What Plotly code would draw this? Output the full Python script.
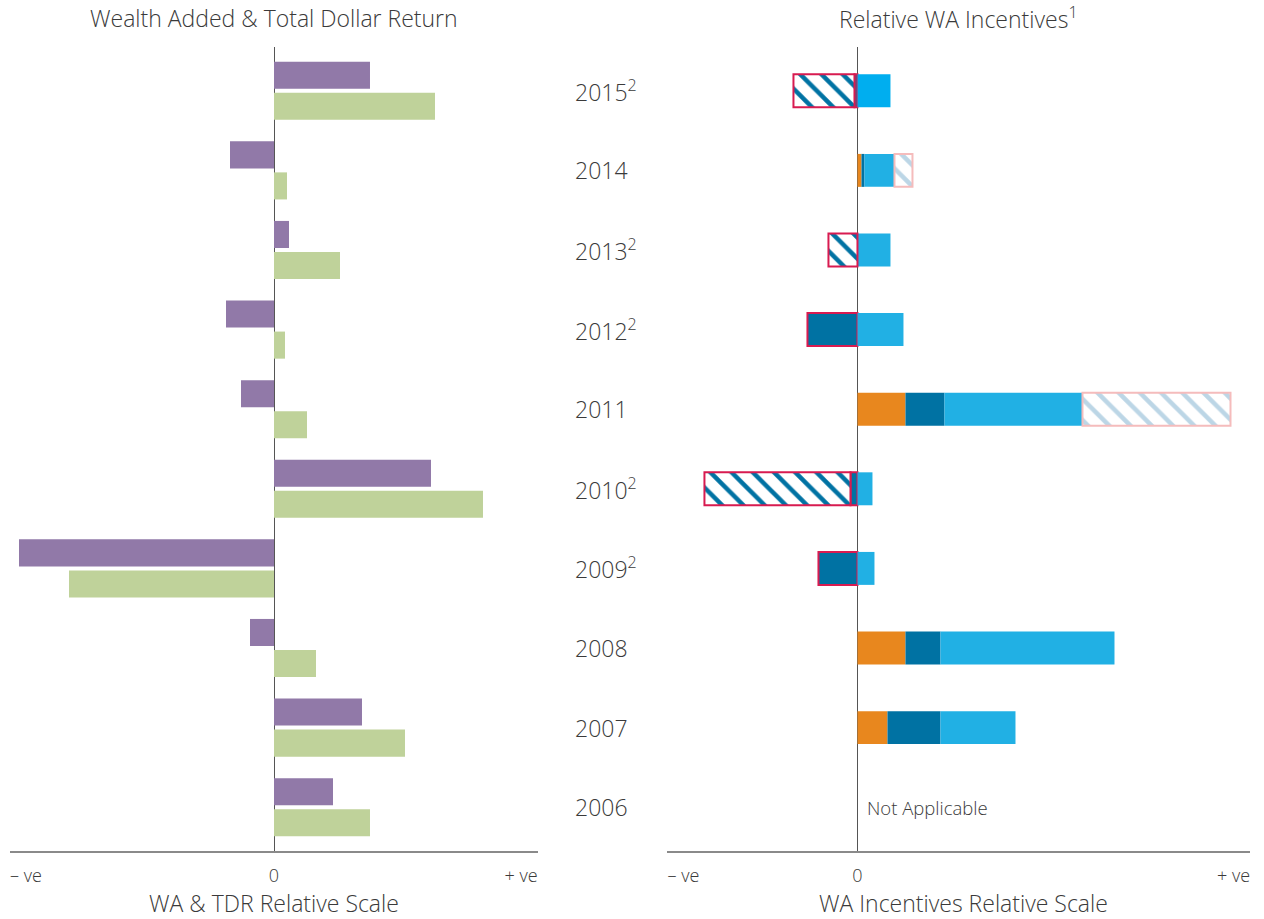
import plotly.graph_objects as go
from plotly.subplots import make_subplots

# years, top to bottom; footnote 2 marks some of them
years = ["2015", "2014", "2013", "2012", "2011", "2010", "2009", "2008", "2007", "2006"]
year_notes = ["2", "", "2", "2", "", "2", "2", "", "", ""]

# left panel: Wealth Added (WA) and Total Dollar Return (TDR), relative units
wealth_added = [96, -44, 15, -48, -33, 157, -255, -24, 88, 59]
total_dollar_return = [161, 13, 66, 11, 33, 209, -205, 42, 131, 96]

# right panel: relative WA incentive components (None = not applicable / no segment)
inc_orange = [None, 4, None, None, 48, None, None, 48, 30, None]
inc_dark = [None, 3, None, None, 39, None, None, 35, 53, None]
inc_light = [33, 30, 33, 46, 138, 15, 17, 174, 75, None]
inc_light_hatched = [None, 18, None, None, 148, None, None, None, None, None]
inc_dark_negative = [-3, None, None, -50, None, -7, -39, None, None, None]
inc_dark_hatched = [-61, None, -29, None, None, -146, None, None, None, None]

TEXT = "#3a3a3a"
FONT = "Open Sans"
PURPLE = "#9179a8"
GREEN = "#bfd29a"
ORANGE = "#e8871e"
DARK_BLUE = "#0072a3"
LIGHT_BLUE = "#21b0e4"
RED = "#d81b50"

pos = list(range(len(years)))

fig = make_subplots(rows=1, cols=2, horizontal_spacing=0.1)

# left panel: paired bars
fig.add_trace(go.Bar(
    y=[p - 0.195 for p in pos], x=wealth_added, orientation="h",
    width=0.34, marker=dict(color=PURPLE, line=dict(width=0)), name="Wealth Added",
), row=1, col=1)
fig.add_trace(go.Bar(
    y=[p + 0.195 for p in pos], x=total_dollar_return, orientation="h",
    width=0.34, marker=dict(color=GREEN, line=dict(width=0)), name="Total Dollar Return",
), row=1, col=1)

# right panel: stacked incentive segments
bar_w = 0.414
fig.add_trace(go.Bar(
    y=pos, x=inc_orange, orientation="h", width=bar_w,
    marker=dict(color=ORANGE, line=dict(width=0)), name="orange",
), row=1, col=2)
fig.add_trace(go.Bar(
    y=pos, x=inc_dark_negative, orientation="h", width=bar_w,
    marker=dict(color=DARK_BLUE, line=dict(color=RED, width=2)), name="dark neg",
), row=1, col=2)
fig.add_trace(go.Bar(
    y=pos, x=inc_dark, orientation="h", width=bar_w,
    marker=dict(color=DARK_BLUE, line=dict(width=0)), name="dark",
), row=1, col=2)
fig.add_trace(go.Bar(
    y=pos, x=inc_light, orientation="h", width=bar_w,
    marker=dict(color=["#00aeef"] + [LIGHT_BLUE] * 9, line=dict(width=0)), name="light",
), row=1, col=2)
fig.add_trace(go.Bar(
    y=pos, x=inc_light_hatched, orientation="h", width=bar_w,
    marker=dict(color="white", line=dict(color="#f5bcbc", width=2),
                pattern=dict(shape="\\", fgcolor="#bcd6e6", bgcolor="white",
                             size=15, solidity=0.3, fillmode="replace")),
    name="light hatched",
), row=1, col=2)
fig.add_trace(go.Bar(
    y=pos, x=inc_dark_hatched, orientation="h", width=bar_w,
    marker=dict(color="white", line=dict(color=RED, width=2),
                pattern=dict(shape="\\", fgcolor=DARK_BLUE, bgcolor="white",
                             size=15, solidity=0.3, fillmode="replace")),
    name="dark hatched",
), row=1, col=2)

axis_common = dict(
    showgrid=False, zeroline=True, zerolinecolor="#555555", zerolinewidth=1.3,
    showline=True, linecolor="#8a8a8a", linewidth=2, ticks="",
    ticklabelstandoff=7, tickfont=dict(family=FONT, size=18, color=TEXT, weight=300),
    fixedrange=True,
)
fig.update_xaxes(**axis_common)
fig.update_xaxes(range=[-264, 264], domain=[0, 0.4258],
                 tickvals=[-248, 0, 247], ticktext=["\u2013 ve", "0", "+ ve"], row=1, col=1)
fig.update_xaxes(range=[-190.5, 392.5], domain=[0.5298, 1],
                 tickvals=[-174, 0, 376], ticktext=["\u2013 ve", "0", "+ ve"], row=1, col=2)
fig.update_yaxes(range=[9.55, -0.55], showgrid=False, zeroline=False, showline=False,
                 showticklabels=False, ticks="", fixedrange=True)

annotations = [
    dict(text="Wealth Added & Total Dollar Return", x=0.2129, y=1.036,
         font=dict(size=23)),
    dict(text="Relative WA Incentives<sup>1</sup>", x=0.7649, y=1.036,
         font=dict(size=23)),
    dict(text="WA & TDR Relative Scale", x=0.2129, y=-0.0645, font=dict(size=23)),
    dict(text="WA Incentives Relative Scale", x=0.7688, y=-0.0645, font=dict(size=23)),
]
for a in annotations:
    a.update(xref="paper", yref="paper", showarrow=False, xanchor="center", yanchor="middle")

for p, yr, note in zip(pos, years, year_notes):
    label = yr + (f"<sup>{note}</sup>" if note else "")
    annotations.append(dict(
        text=label, xref="paper", yref="y2", x=0.4540, y=p, xanchor="left",
        yanchor="middle", showarrow=False, font=dict(size=23),
    ))

annotations.append(dict(
    text="Not Applicable", xref="x2", yref="y2", x=8, y=years.index("2006"),
    xanchor="left", yanchor="middle", showarrow=False, font=dict(size=18.5),
))

fig.update_layout(
    width=1264, height=919,
    margin=dict(l=10, r=14, t=47, b=68),
    barmode="relative",
    showlegend=False,
    plot_bgcolor="white", paper_bgcolor="white",
    font=dict(family=FONT, color=TEXT, weight=300),
    annotations=annotations,
)

# drop the page body's default 8 px margin so the figure fills the window exactly
fig.write_html("out.html", config={"displayModeBar": False},
               post_script="document.body.style.margin = '0';")
